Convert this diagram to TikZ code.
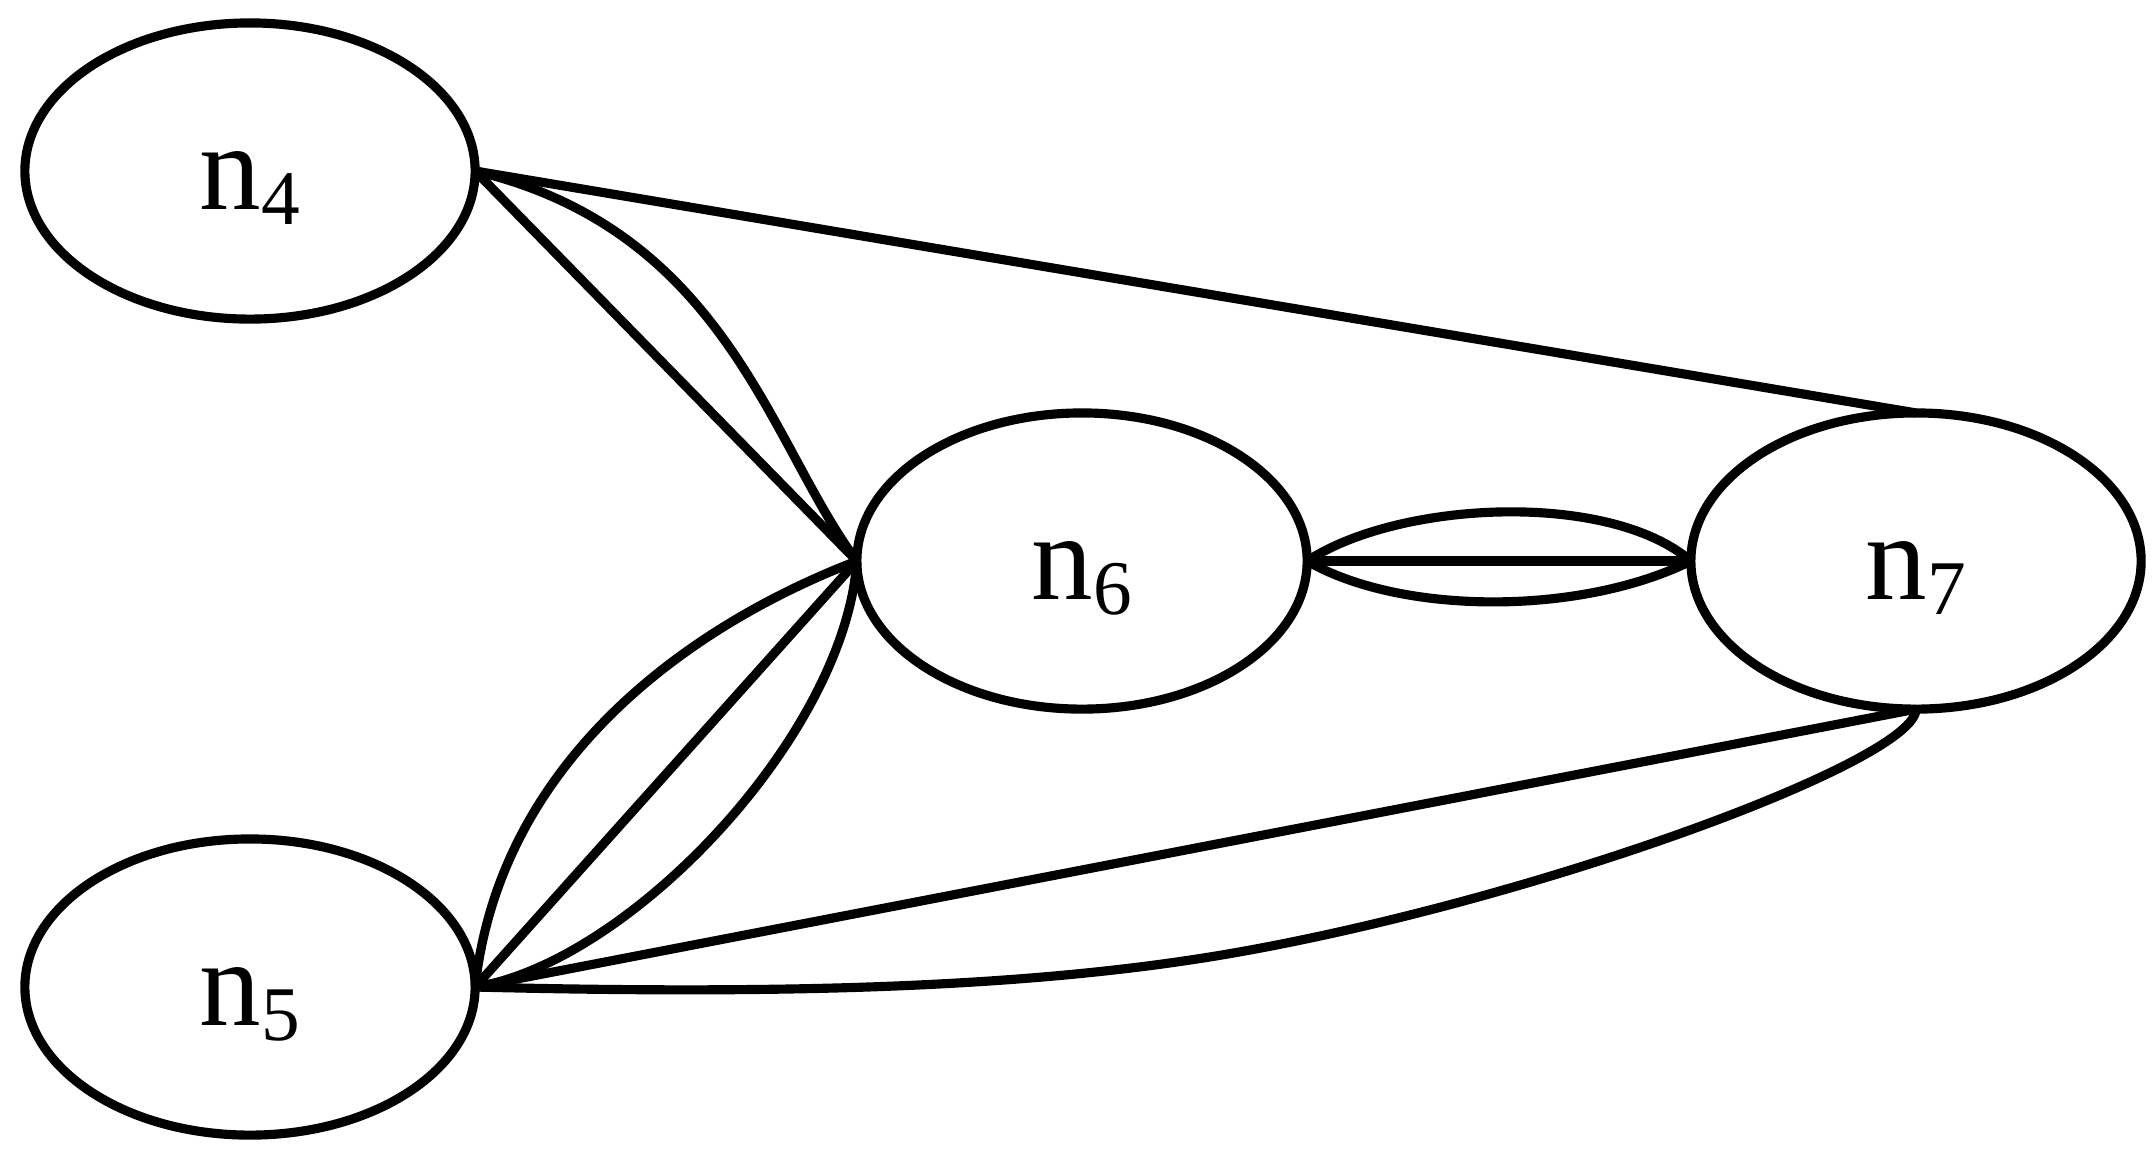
\documentclass[tikz,border=0pt]{standalone}
\usepackage{fontspec}
\setmainfont{Liberation Serif}
\usetikzlibrary{shapes.geometric}
\tikzset{
  gnode/.style={draw, ellipse, line width=2.6pt, minimum width=4.5cm, minimum height=2.96cm,
    inner sep=0pt, outer sep=0pt, text height=0.76cm, text depth=0cm,
    font=\fontsize{35}{35}\selectfont},
  gedge/.style={line width=2.6pt}
}
\newcommand{\nlab}[1]{n\raisebox{-0.15cm}{\fontsize{22}{22}\selectfont #1}}
\begin{document}
\begin{tikzpicture}[x=0.01cm, y=-0.01cm]
\useasboundingbox (0,0) rectangle (2152,1153);
\node[gnode] (n4) at (250,171) {\nlab{4}};
\node[gnode] (n5) at (250,987) {\nlab{5}};
\node[gnode] (n6) at (1082,561) {\nlab{6}};
\node[gnode] (n7) at (1916,561) {\nlab{7}};

\draw[gedge] (n4.east) -- (n7.north);
\draw[gedge] (n4.east) -- (n6.west);
\draw[gedge] (n4.east) .. controls (727,231) and (770,445) .. (n6.west);

\draw[gedge] (n5.east) -- (n6.west);
\draw[gedge] (n5.east) .. controls (500,760) and (690,625) .. (n6.west);
\draw[gedge] (n5.east) .. controls (630,962) and (845,735) .. (n6.west);

\draw[gedge] (n5.east) -- (n7.south);
\draw[gedge] (n5.east) .. controls (800,995) and (1050,987) .. (1250,950)
  .. controls (1550,895) and (1916,760) .. (n7.south);

\draw[gedge] (n6.east) -- (n7.west);
\draw[gedge] (n6.east) .. controls (1400,500) and (1610,491) .. (n7.west);
\draw[gedge] (n6.east) .. controls (1400,615) and (1580,616) .. (n7.west);
\end{tikzpicture}
\end{document}
